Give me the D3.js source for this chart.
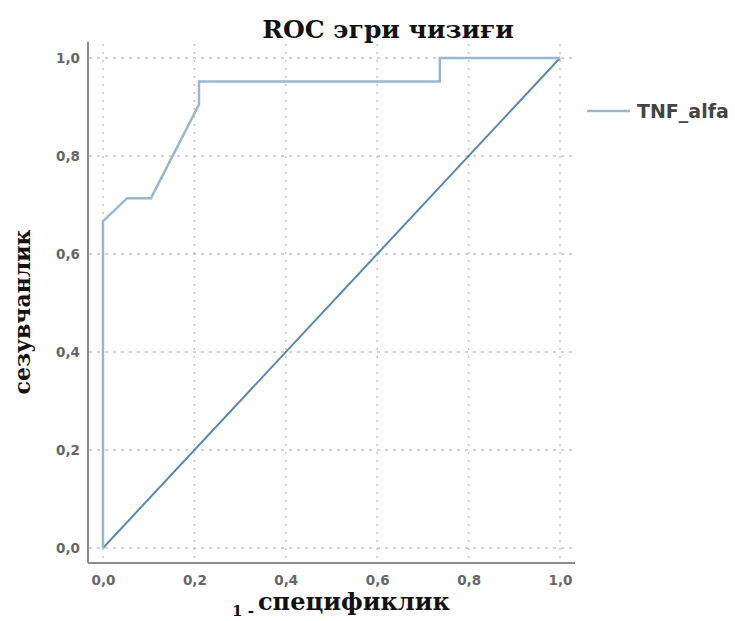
<!DOCTYPE html>
<html>
<head>
<meta charset="utf-8">
<script src="https://cdn.jsdelivr.net/npm/d3@7"></script>
<style>
  body { margin: 0; background: #fff; }
</style>
</head>
<body>
<div id="chart"></div>
<script>
// ROC curve points (1 - specificity, sensitivity)
var fpr = [0, 0, 0.053, 0.105, 0.21, 0.21, 0.737, 0.737, 1];
var tpr = [0, 0.667, 0.714, 0.714, 0.905, 0.952, 0.952, 1, 1];
var refLine = [0, 1];
var ticks = [0, 0.2, 0.4, 0.6, 0.8, 1];
var seriesName = "TNF_alfa";

var width = 735, height = 621;
var rocColor = "#9ab6cd", diagColor = "#5a86b3";

var svg = d3.select("#chart").append("svg")
  .attr("width", width)
  .attr("height", height);

var x = d3.scaleLinear().domain([0, 1]).range([103, 560]);
var y = d3.scaleLinear().domain([0, 1]).range([548, 58]);
var fmt = function(d) { return d3.format(".1f")(d).replace(".", ","); };

// grid
svg.selectAll(".vgrid")
  .data(ticks)
  .enter()
  .append("line")
  .attr("class", "vgrid")
  .attr("x1", function(d) { return x(d); })
  .attr("x2", function(d) { return x(d); })
  .attr("y1", 44)
  .attr("y2", 562)
  .attr("stroke", "#c4c4c4")
  .attr("stroke-width", 1.5)
  .attr("stroke-dasharray", "2,6");

svg.selectAll(".hgrid")
  .data(ticks)
  .enter()
  .append("line")
  .attr("class", "hgrid")
  .attr("x1", 89)
  .attr("x2", 575)
  .attr("y1", function(d) { return y(d); })
  .attr("y2", function(d) { return y(d); })
  .attr("stroke", "#c4c4c4")
  .attr("stroke-width", 1.5)
  .attr("stroke-dasharray", "3,5");

// axes
var xAxis = d3.axisBottom(x).tickValues(ticks).tickFormat(fmt).tickSize(0).tickPadding(12);
var yAxis = d3.axisLeft(y).tickValues(ticks).tickFormat(fmt).tickSize(0).tickPadding(8);

var gx = svg.append("g").attr("transform", "translate(0,563)").call(xAxis);
var gy = svg.append("g").attr("transform", "translate(88,0)").call(yAxis);
[gx, gy].forEach(function(g) {
  g.select(".domain").remove();
  g.selectAll("text")
    .attr("fill", "#666")
    .style("font-family", "DejaVu Sans")
    .style("font-weight", "bold")
    .style("font-size", "13.5px");
});

svg.append("line")
  .attr("x1", 88).attr("x2", 88).attr("y1", 42).attr("y2", 563)
  .attr("stroke", "#8a8a8a").attr("stroke-width", 2);
svg.append("line")
  .attr("x1", 88).attr("x2", 575).attr("y1", 563).attr("y2", 563)
  .attr("stroke", "#8a8a8a").attr("stroke-width", 2);

// reference diagonal
svg.append("line")
  .attr("x1", x(refLine[0])).attr("y1", y(refLine[0]))
  .attr("x2", x(refLine[1])).attr("y2", y(refLine[1]))
  .attr("stroke", diagColor)
  .attr("stroke-width", 2);

// ROC curve
var line = d3.line()
  .x(function(d) { return x(d[0]); })
  .y(function(d) { return y(d[1]); });

svg.append("path")
  .datum(d3.zip(fpr, tpr))
  .attr("d", line)
  .attr("fill", "none")
  .attr("stroke", rocColor)
  .attr("stroke-width", 2.5);

// title
svg.append("text")
  .attr("x", 388).attr("y", 38)
  .attr("text-anchor", "middle")
  .style("font-family", "DejaVu Serif")
  .style("font-weight", "bold")
  .style("font-size", "25px")
  .attr("fill", "#111")
  .text("ROC эгри чизиғи");

// y label
svg.append("text")
  .attr("transform", "translate(30,312) rotate(-90)")
  .attr("text-anchor", "middle")
  .style("font-family", "DejaVu Serif")
  .style("font-weight", "bold")
  .style("font-size", "22px")
  .attr("fill", "#111")
  .text("сезувчанлик");

// x label
svg.append("text")
  .attr("x", 258).attr("y", 610)
  .style("font-family", "DejaVu Serif")
  .style("font-weight", "bold")
  .style("font-size", "24px")
  .attr("fill", "#111")
  .text("спецификлик");
svg.append("text")
  .attr("x", 254).attr("y", 616)
  .attr("text-anchor", "end")
  .style("font-family", "DejaVu Serif")
  .style("font-weight", "bold")
  .style("font-size", "15px")
  .attr("fill", "#111")
  .text("1 -");

// legend
svg.append("line")
  .attr("x1", 587).attr("x2", 630).attr("y1", 111).attr("y2", 111)
  .attr("stroke", rocColor).attr("stroke-width", 2.5);
svg.append("text")
  .attr("x", 637).attr("y", 118)
  .style("font-family", "DejaVu Sans")
  .style("font-weight", "bold")
  .style("font-size", "19px")
  .attr("fill", "#444")
  .text(seriesName);
</script>
</body>
</html>
